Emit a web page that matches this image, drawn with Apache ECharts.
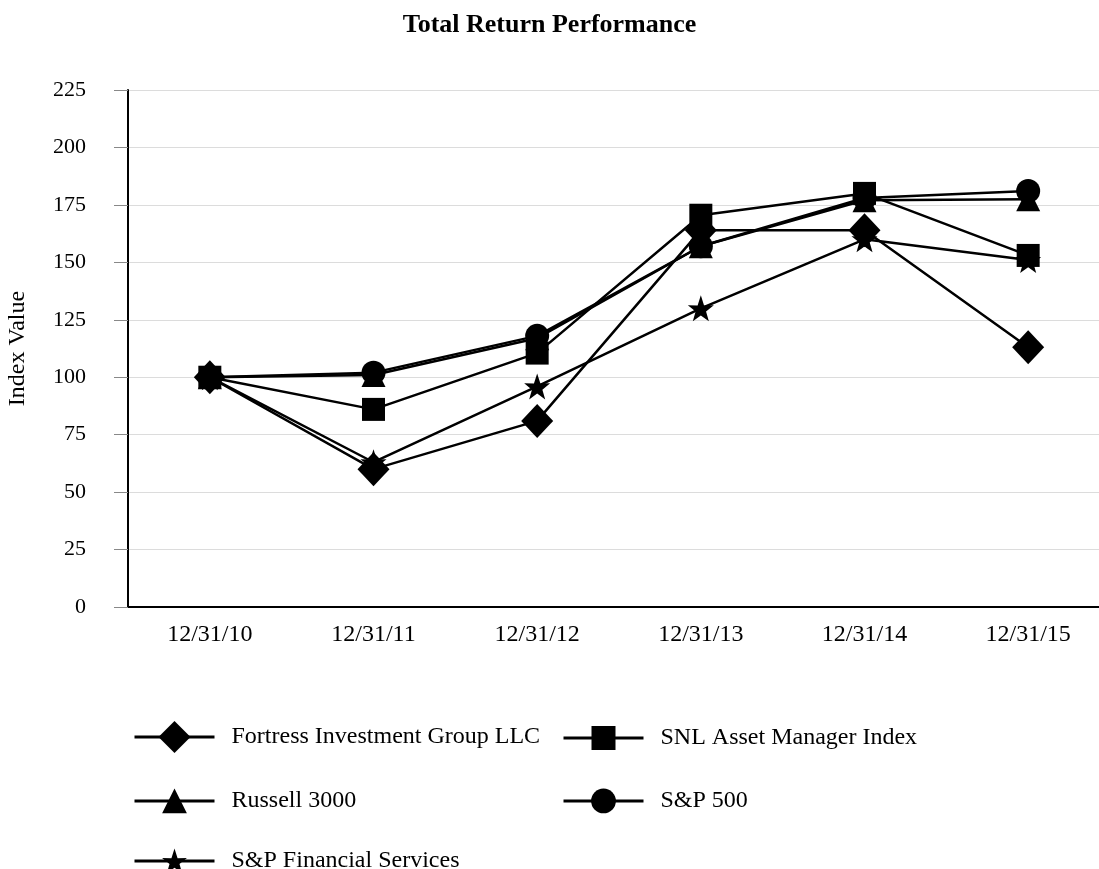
<!DOCTYPE html>
<html>
<head>
<meta charset="utf-8">
<script src="https://cdn.jsdelivr.net/npm/echarts@6/dist/echarts.min.js"></script>
<style>html,body{margin:0;padding:0;background:#fff}#c{width:1099px;height:869px}</style>
</head>
<body>
<div id="c"></div>
<script>
const categories = ['12/31/10', '12/31/11', '12/31/12', '12/31/13', '12/31/14', '12/31/15'];
const yTicks = [0, 25, 50, 75, 100, 125, 150, 175, 200, 225];
const fortress = [100, 60, 81, 164, 164, 113];
const snl = [100, 86, 110.5, 170.5, 180, 153];
const russell = [100, 101, 117, 157, 177, 177.5];
const sp500 = [100, 102, 118, 157, 178, 181];
const spFin = [100, 63, 96, 130, 160, 151];

const FONT = 'Liberation Serif';
const star = 'path://M50,0 L61.8,35.3 L97.6,34.5 L69.1,56.5 L79.4,90.5 L50,70 L20.6,90.5 L30.9,56.5 L2.4,34.5 L38.2,35.3 Z';
const seriesDefs = [
  {name: 'Fortress Investment Group LLC', data: fortress, symbol: 'diamond', size: [32, 34], legendH: 40},
  {name: 'SNL Asset Manager Index', data: snl, symbol: 'rect', size: 23, legendH: 30},
  {name: 'Russell 3000', data: russell, symbol: 'triangle', size: 24, legendH: 31},
  {name: 'S&P 500', data: sp500, symbol: 'circle', size: 24, legendH: 31},
  {name: 'S&P Financial Services', data: spFin, symbol: star, size: 26, legendH: 31}
];
const legendPos = [
  {left: 133, cy: 741}, {left: 562, cy: 741},
  {left: 133, cy: 804}, {left: 562, cy: 804},
  {left: 133, cy: 864}
];
const chart = echarts.init(document.getElementById('c'));
chart.setOption({
  backgroundColor: '#fff',
  animation: false,
  title: {
    text: 'Total Return Performance', left: 'center', top: 7,
    textStyle: {fontFamily: FONT, fontWeight: 'bold', fontSize: 26, color: '#000'}
  },
  legend: seriesDefs.map((s, i) => ({
    data: [s.name], left: legendPos[i].left, top: legendPos[i].cy - s.legendH / 2,
    itemWidth: 80, itemHeight: s.legendH, itemGap: 10, padding: 0,
    lineStyle: {width: 3, color: '#000'},
    textStyle: {fontFamily: FONT, fontSize: 24, color: '#000', padding: [0, 0, 0, 12]},
    selectedMode: false
  })),
  grid: {left: 128, top: 90, width: 982, height: 517, containLabel: false, outerBoundsMode: 'none'},
  xAxis: {
    type: 'category', data: categories, boundaryGap: true,
    axisLine: {lineStyle: {color: '#000', width: 2}},
    axisTick: {show: false},
    axisLabel: {fontFamily: FONT, fontSize: 24, color: '#000', margin: 16}
  },
  yAxis: {
    type: 'value', min: 0, max: 225, interval: 25,
    name: 'Index Value', nameLocation: 'middle', nameGap: 98, nameRotate: 90,
    nameTextStyle: {fontFamily: FONT, fontSize: 24, color: '#000'},
    axisLine: {show: true, lineStyle: {color: '#000', width: 2}},
    axisTick: {show: true, inside: false, length: 14, lineStyle: {color: '#888', width: 1}},
    axisLabel: {fontFamily: FONT, fontSize: 22, color: '#000', margin: 42, align: 'right',
      formatter: v => yTicks.includes(v) ? String(v) : ''},
    splitLine: {lineStyle: {color: '#dcdcdc', width: 1}}
  },
  series: seriesDefs.map(s => ({
    name: s.name, type: 'line', data: s.data, symbol: s.symbol, symbolSize: s.size,
    showAllSymbol: true,
    lineStyle: {color: '#000', width: 2.5},
    itemStyle: {color: '#000', borderWidth: 0},
    emphasis: {disabled: true}
  }))
});
</script>
</body>
</html>
